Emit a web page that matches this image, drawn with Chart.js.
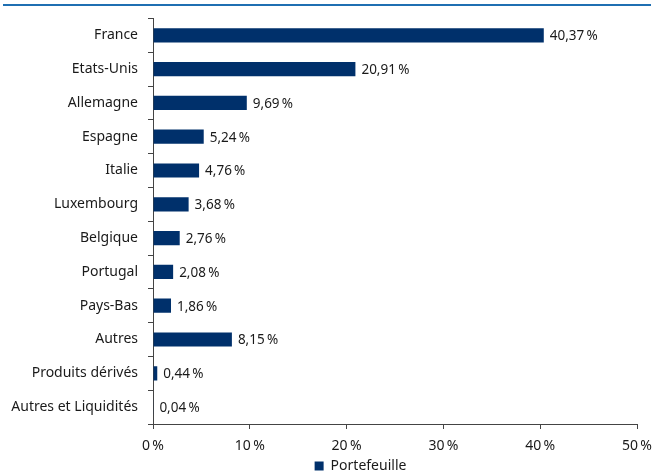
<!DOCTYPE html>
<html>
<head>
<meta charset="utf-8">
<script src="https://cdn.jsdelivr.net/npm/chart.js@4/dist/chart.umd.min.js"></script>
<style>
  html, body { margin: 0; padding: 0; background: #fff; overflow: hidden; }
  #wrap { position: relative; width: 656px; height: 475px; overflow: hidden; }
  #topline { position: absolute; left: 3px; top: 4px; width: 648px; height: 2px; background: #1f6fb2; }
  canvas { position: absolute; left: 0; top: 0; }
</style>
</head>
<body>
<div id="wrap">
  <div id="topline"></div>
  <canvas id="chart" width="656" height="483"></canvas>
</div>
<script>
const countries = ['France', 'Etats-Unis', 'Allemagne', 'Espagne', 'Italie', 'Luxembourg', 'Belgique',
    'Portugal', 'Pays-Bas', 'Autres', 'Produits dérivés', 'Autres et Liquidités'];
const weights = [40.37, 20.91, 9.69, 5.24, 4.76, 3.68, 2.76, 2.08, 1.86, 8.15, 0.44, 0.04];
const seriesName = 'Portefeuille';
const xTicks = [0, 10, 20, 30, 40, 50];

const fontFamily = "'Noto Sans', sans-serif";
const textColor = '#1a1a1a';
const axisColor = '#444';

function fmt(v) {
    return v.toFixed(2).replace('.', ',') + '\u202f%';
}

// value labels at the end of each bar
const valueLabels = {
    id: 'valueLabels',
    afterDatasetsDraw(chart) {
        const ctx = chart.ctx;
        const meta = chart.getDatasetMeta(0);
        ctx.save();
        ctx.font = '13.5px ' + fontFamily;
        ctx.fillStyle = textColor;
        ctx.textAlign = 'left';
        ctx.textBaseline = 'middle';
        meta.data.forEach((bar, i) => {
            ctx.fillText(fmt(weights[i]), bar.x + 6, bar.y + 1);
        });
        ctx.restore();
    }
};

// the legend sits a bit right of centre in the original
const shiftLegend = {
    id: 'shiftLegend',
    afterLayout(chart) {
        chart.legend.left += 42;
        chart.legend.right += 42;
    }
};

new Chart(document.getElementById('chart'), {
    type: 'bar',
    data: {
        labels: countries,
        datasets: [{
            label: seriesName,
            data: weights,
            backgroundColor: '#00306b',
            borderWidth: 0,
            categoryPercentage: 1,
            barPercentage: 0.42
        }]
    },
    options: {
        indexAxis: 'y',
        responsive: false,
        animation: false,
        layout: { padding: { top: 15, right: 19, left: 0, bottom: 0 } },
        scales: {
            x: {
                min: 0,
                max: 50,
                afterBuildTicks: (s) => { s.ticks = xTicks.map(v => ({ value: v })); },
                afterFit: (s) => { s.height = 35; s.paddingRight = 0; s.paddingLeft = 0; },
                ticks: {
                    callback: (v) => v + '\u202f%',
                    color: textColor,
                    font: { family: fontFamily, size: 14 },
                    padding: 9,
                    maxRotation: 0
                },
                grid: { drawOnChartArea: false, drawTicks: true, tickLength: 5, color: axisColor },
                border: { color: axisColor, width: 1 }
            },
            y: {
                afterFit: (s) => { s.width = 153; },
                ticks: {
                    color: textColor,
                    font: { family: fontFamily, size: 14 },
                    padding: 10
                },
                grid: { drawOnChartArea: false, drawTicks: true, tickLength: 5, color: axisColor, offset: true },
                border: { color: axisColor, width: 1 }
            }
        },
        plugins: {
            legend: {
                position: 'bottom',
                labels: {
                    boxWidth: 9,
                    boxHeight: 9,
                    padding: 0,
                    color: textColor,
                    font: { family: fontFamily, size: 14 }
                }
            },
            tooltip: { enabled: false }
        }
    },
    plugins: [valueLabels, shiftLegend]
});
</script>
</body>
</html>
